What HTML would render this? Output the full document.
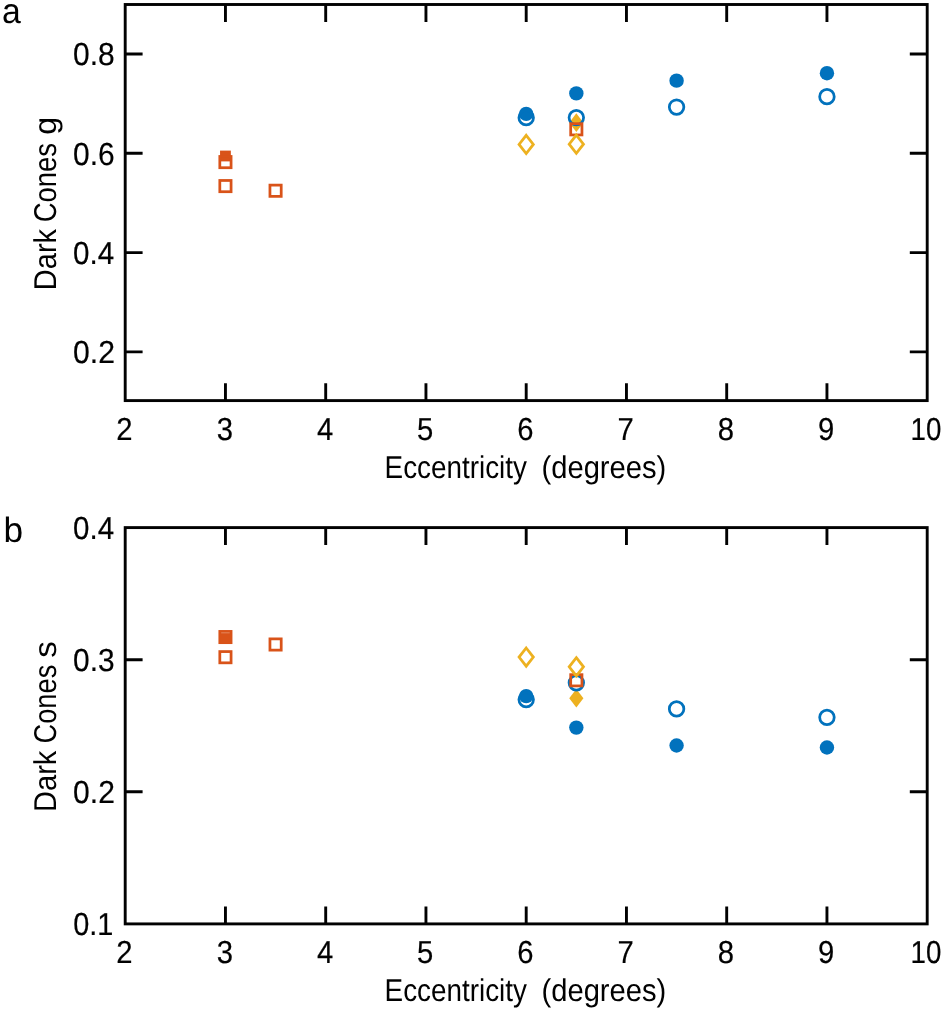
<!DOCTYPE html>
<html><head><meta charset="utf-8"><title>Figure</title>
<style>
html,body{margin:0;padding:0;background:#fff;}
svg{display:block;font-family:"Liberation Sans",sans-serif;}
text{fill:#000;text-rendering:geometricPrecision;}
.tk{stroke:#000;stroke-width:0.2px;}
</style></head><body>
<svg width="944" height="1010" viewBox="0 0 944 1010">
<rect width="944" height="1010" fill="#fff"/>
<g opacity="0.999">
<rect x="125.2" y="4.5" width="802.0" height="396.1" fill="none" stroke="#000" stroke-width="2.9"/>
<path d="M225.45 400.6V383.20000000000005M225.45 4.5V21.9M325.70 400.6V383.20000000000005M325.70 4.5V21.9M425.95 400.6V383.20000000000005M425.95 4.5V21.9M526.20 400.6V383.20000000000005M526.20 4.5V21.9M626.45 400.6V383.20000000000005M626.45 4.5V21.9M726.70 400.6V383.20000000000005M726.70 4.5V21.9M826.95 400.6V383.20000000000005M826.95 4.5V21.9" stroke="#000" stroke-width="2.9" fill="none"/>
<path d="M125.2 54.00H142.6M927.2 54.00H909.8000000000001M125.2 153.30H142.6M927.2 153.30H909.8000000000001M125.2 252.60H142.6M927.2 252.60H909.8000000000001M125.2 351.90H142.6M927.2 351.90H909.8000000000001" stroke="#000" stroke-width="2.9" fill="none"/>
<path d="M576.33 113.32L583.43 122.67L576.33 132.02L569.23 122.67Z" fill="#EDB120"/>
<circle cx="526.20" cy="113.90" r="7.2" fill="#0072BD"/>
<circle cx="526.20" cy="117.70" r="7.275" fill="none" stroke="#0072BD" stroke-width="2.75"/>
<circle cx="576.33" cy="93.40" r="7.2" fill="#0072BD"/>
<circle cx="576.33" cy="117.60" r="7.275" fill="none" stroke="#0072BD" stroke-width="2.75"/>
<circle cx="676.58" cy="80.66" r="7.2" fill="#0072BD"/>
<circle cx="676.58" cy="107.04" r="7.275" fill="none" stroke="#0072BD" stroke-width="2.75"/>
<circle cx="826.95" cy="73.20" r="7.2" fill="#0072BD"/>
<circle cx="826.95" cy="96.70" r="7.275" fill="none" stroke="#0072BD" stroke-width="2.75"/>
<rect x="220.05" y="150.60" width="10.8" height="10.8" fill="#D95319"/>
<rect x="219.82" y="156.47" width="11.25" height="11.25" fill="none" stroke="#D95319" stroke-width="2.75"/>
<rect x="219.82" y="180.47" width="11.25" height="11.25" fill="none" stroke="#D95319" stroke-width="2.75"/>
<rect x="269.95" y="185.12" width="11.25" height="11.25" fill="none" stroke="#D95319" stroke-width="2.75"/>
<rect x="570.70" y="123.68" width="11.25" height="11.25" fill="none" stroke="#D95319" stroke-width="2.75"/>
<path d="M526.20 135.30L533.35 144.40L526.20 153.50L519.05 144.40Z" fill="none" stroke="#EDB120" stroke-width="2.75" stroke-miterlimit="10"/>
<path d="M576.33 135.10L583.48 144.20L576.33 153.30L569.18 144.20Z" fill="none" stroke="#EDB120" stroke-width="2.75" stroke-miterlimit="10"/>
<text transform="translate(73.00,65.20) scale(0.9428,1)" font-size="31.8" class="tk">0.8</text>
<text transform="translate(73.00,164.50) scale(0.9428,1)" font-size="31.8" class="tk">0.6</text>
<text transform="translate(73.01,263.80) scale(0.9321,1)" font-size="31.8" class="tk">0.4</text>
<text transform="translate(72.99,363.10) scale(0.9482,1)" font-size="31.8" class="tk">0.2</text>
<text transform="translate(116.33,439.60) scale(0.9200,1)" font-size="31.8" class="tk">2</text>
<text transform="translate(216.65,439.60) scale(0.9200,1)" font-size="31.8" class="tk">3</text>
<text transform="translate(316.90,439.60) scale(0.9200,1)" font-size="31.8" class="tk">4</text>
<text transform="translate(417.08,439.60) scale(0.9200,1)" font-size="31.8" class="tk">5</text>
<text transform="translate(517.22,439.60) scale(0.9200,1)" font-size="31.8" class="tk">6</text>
<text transform="translate(617.54,439.60) scale(0.9200,1)" font-size="31.8" class="tk">7</text>
<text transform="translate(717.83,439.60) scale(0.9200,1)" font-size="31.8" class="tk">8</text>
<text transform="translate(818.04,439.60) scale(0.9200,1)" font-size="31.8" class="tk">9</text>
<text transform="translate(910.52,439.60) scale(0.8733,1)" font-size="31.8" class="tk">10</text>
<text transform="translate(384.60,477.60) scale(0.8840,1)" font-size="31.5">Eccentricity</text>
<text transform="translate(541.48,477.60) scale(0.9260,1)" font-size="31.5">(degrees)</text>
<text transform="translate(55.80,287.80) rotate(-90) translate(-2.39,0) scale(0.9211,1)" font-size="31.5">Dark</text>
<text transform="translate(55.80,287.80) rotate(-90) translate(65.43,0) scale(0.8726,1)" font-size="31.5">Cones</text>
<text transform="translate(55.80,287.80) rotate(-90) translate(152.93,0) scale(1.0229,1)" font-size="31.5">g</text>
<text transform="translate(2.02,22.90) scale(0.9590,1)" font-size="35.2">a</text>
<rect x="125.2" y="527.6" width="802.0" height="396.29999999999995" fill="none" stroke="#000" stroke-width="2.9"/>
<path d="M225.45 923.9V906.5M225.45 527.6V545.0M325.70 923.9V906.5M325.70 527.6V545.0M425.95 923.9V906.5M425.95 527.6V545.0M526.20 923.9V906.5M526.20 527.6V545.0M626.45 923.9V906.5M626.45 527.6V545.0M726.70 923.9V906.5M726.70 527.6V545.0M826.95 923.9V906.5M826.95 527.6V545.0" stroke="#000" stroke-width="2.9" fill="none"/>
<path d="M125.2 659.70H142.6M927.2 659.70H909.8000000000001M125.2 791.80H142.6M927.2 791.80H909.8000000000001" stroke="#000" stroke-width="2.9" fill="none"/>
<path d="M576.33 688.90L583.43 698.25L576.33 707.60L569.23 698.25Z" fill="#EDB120"/>
<circle cx="526.20" cy="696.10" r="7.2" fill="#0072BD"/>
<circle cx="526.20" cy="699.60" r="7.275" fill="none" stroke="#0072BD" stroke-width="2.75"/>
<circle cx="576.33" cy="682.80" r="7.275" fill="none" stroke="#0072BD" stroke-width="2.75"/>
<circle cx="576.33" cy="727.60" r="7.2" fill="#0072BD"/>
<circle cx="676.58" cy="708.95" r="7.275" fill="none" stroke="#0072BD" stroke-width="2.75"/>
<circle cx="676.58" cy="745.50" r="7.2" fill="#0072BD"/>
<circle cx="826.95" cy="717.30" r="7.275" fill="none" stroke="#0072BD" stroke-width="2.75"/>
<circle cx="826.95" cy="747.50" r="7.2" fill="#0072BD"/>
<rect x="219.82" y="631.42" width="11.25" height="11.25" fill="none" stroke="#D95319" stroke-width="2.75"/>
<rect x="220.05" y="633.10" width="10.8" height="10.8" fill="#D95319"/>
<rect x="219.82" y="651.58" width="11.25" height="11.25" fill="none" stroke="#D95319" stroke-width="2.75"/>
<rect x="269.95" y="638.88" width="11.25" height="11.25" fill="none" stroke="#D95319" stroke-width="2.75"/>
<rect x="570.70" y="674.67" width="11.25" height="11.25" fill="none" stroke="#D95319" stroke-width="2.75"/>
<path d="M526.20 648.00L533.35 657.10L526.20 666.20L519.05 657.10Z" fill="none" stroke="#EDB120" stroke-width="2.75" stroke-miterlimit="10"/>
<path d="M576.33 657.70L583.48 666.80L576.33 675.90L569.18 666.80Z" fill="none" stroke="#EDB120" stroke-width="2.75" stroke-miterlimit="10"/>
<text transform="translate(73.12,538.80) scale(0.9297,1)" font-size="31.8" class="tk">0.4</text>
<text transform="translate(73.10,670.90) scale(0.9404,1)" font-size="31.8" class="tk">0.3</text>
<text transform="translate(73.10,803.00) scale(0.9458,1)" font-size="31.8" class="tk">0.2</text>
<text transform="translate(73.15,935.10) scale(0.9078,1)" font-size="31.8" class="tk">0.1</text>
<text transform="translate(116.33,962.90) scale(0.9200,1)" font-size="31.8" class="tk">2</text>
<text transform="translate(216.65,962.90) scale(0.9200,1)" font-size="31.8" class="tk">3</text>
<text transform="translate(316.90,962.90) scale(0.9200,1)" font-size="31.8" class="tk">4</text>
<text transform="translate(417.08,962.90) scale(0.9200,1)" font-size="31.8" class="tk">5</text>
<text transform="translate(517.22,962.90) scale(0.9200,1)" font-size="31.8" class="tk">6</text>
<text transform="translate(617.54,962.90) scale(0.9200,1)" font-size="31.8" class="tk">7</text>
<text transform="translate(717.83,962.90) scale(0.9200,1)" font-size="31.8" class="tk">8</text>
<text transform="translate(818.04,962.90) scale(0.9200,1)" font-size="31.8" class="tk">9</text>
<text transform="translate(910.52,962.90) scale(0.8733,1)" font-size="31.8" class="tk">10</text>
<text transform="translate(384.60,1000.70) scale(0.8840,1)" font-size="31.5">Eccentricity</text>
<text transform="translate(541.48,1000.70) scale(0.9260,1)" font-size="31.5">(degrees)</text>
<text transform="translate(55.80,809.60) rotate(-90) translate(-2.40,0) scale(0.9227,1)" font-size="31.5">Dark</text>
<text transform="translate(55.80,809.60) rotate(-90) translate(66.14,0) scale(0.8647,1)" font-size="31.5">Cones</text>
<text transform="translate(55.80,809.60) rotate(-90) translate(151.89,0) scale(1.0522,1)" font-size="31.5">s</text>
<text transform="translate(3.44,541.80) scale(1.0000,1)" font-size="35.2">b</text>
</g>
</svg>
</body></html>
